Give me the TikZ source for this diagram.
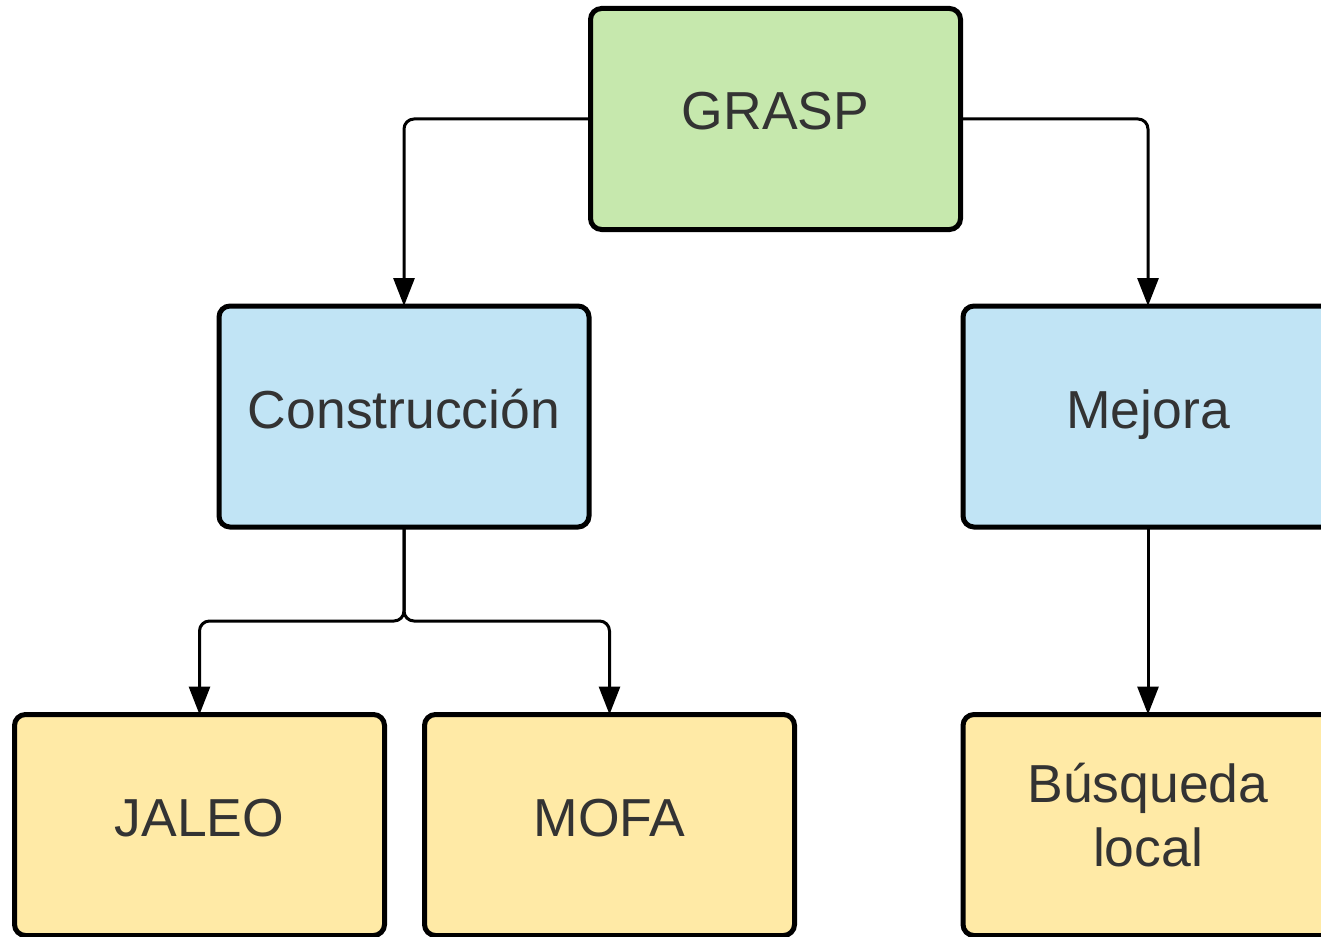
\documentclass[tikz,border=0pt]{standalone}
\usepackage{fontspec}
\setmainfont{Liberation Sans}
\usetikzlibrary{arrows.meta}
\definecolor{boxgreen}{RGB}{198,232,173}
\definecolor{boxblue}{RGB}{193,228,245}
\definecolor{boxyellow}{RGB}{255,234,166}
\definecolor{txtgray}{RGB}{51,51,51}
\tikzset{
  box/.style={draw=black, line width=5pt, rounded corners=11pt,
    minimum width=370pt, minimum height=221pt, inner sep=0pt, outer sep=0pt},
  lbl/.style={anchor=base, text=txtgray, inner sep=0pt,
    font=\fontsize{53.5}{64}\selectfont},
  conn/.style={draw=black, line width=3pt, rounded corners=10pt,
    -{Triangle[length=28pt,width=21pt]}},
}
\begin{document}
\begin{tikzpicture}[x=1pt,y=-1pt]
\useasboundingbox (0,0) rectangle (1321,936);
\clip (0,0) rectangle (1321,936);
% boxes
\node[box, fill=boxgreen]  (g) at (775.5,119) {};
\node[box, fill=boxblue]   (c) at (404,416.5) {};
\node[box, fill=boxblue]   (m) at (1148,416.5) {};
\node[box, fill=boxyellow] (j) at (199.5,825) {};
\node[box, fill=boxyellow] (f) at (609.5,825) {};
\node[box, fill=boxyellow] (b) at (1148,825) {};
% texts
\node[lbl] (gt) at ([yshift=-11pt]g.center) {GRASP};
\node[lbl] (ct) at ([yshift=-11.5pt]c.center) {Construcción};
\node[lbl] (mt) at ([yshift=-11.5pt]m.center) {Mejora};
\node[lbl] (jt) at ([yshift=-11pt]j.center) {JALEO};
\node[lbl] (ft) at ([yshift=-11pt]f.center) {MOFA};
\node[lbl] (bt1) at ([yshift=23pt]b.center) {Búsqueda};
\node[lbl] (bt2) at ([yshift=-41pt]b.center) {local};
% connectors
\draw[conn] (g.west) -| (c.north);
\draw[conn] (g.east) -| (m.north);
\coordinate (split) at (404,621);
\draw[conn] (c.south) -- (split) -| (j.north);
\draw[conn] (c.south) -- (split) -| (f.north);
\draw[conn] (m.south) -- (b.north);
\end{tikzpicture}
\end{document}
